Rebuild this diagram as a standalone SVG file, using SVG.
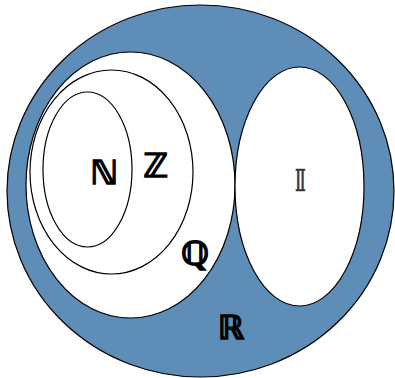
<svg xmlns="http://www.w3.org/2000/svg" width="395" height="378" viewBox="0 0 395 378">
<style>
.s{stroke:#000;stroke-width:1.2}
.t{font-family:"DejaVu Sans",sans-serif;font-weight:bold;font-size:33px;fill:#000;stroke:#000;stroke-width:1.3;text-anchor:middle}
</style>
<rect width="395" height="378" fill="#fff"/>
<g id="R"><ellipse class="s" cx="200.5" cy="191" rx="193.5" ry="186" fill="#5E8DB8"/><text class="t" x="231" y="339">ℝ</text></g>
<g id="Q"><ellipse class="s" cx="130.5" cy="185" rx="104.5" ry="133" fill="#fff"/><text class="t" x="195" y="265">ℚ</text></g>
<g id="Z"><ellipse class="s" cx="111.5" cy="172" rx="81.5" ry="102" fill="none"/><text class="t" x="156" y="177">ℤ</text></g>
<g id="N"><ellipse class="s" cx="87.5" cy="169.5" rx="44.5" ry="77.5" fill="none"/><text class="t" x="104" y="184">ℕ</text></g>
<g id="I"><ellipse class="s" cx="299.5" cy="186.5" rx="64.5" ry="119.5" fill="#fff"/><text class="t" x="300.5" y="191" style="font-weight:normal;font-size:30px;fill:#333;stroke:#333;stroke-width:0.6">𝕀</text></g>
<g id="connectors"/>
</svg>
